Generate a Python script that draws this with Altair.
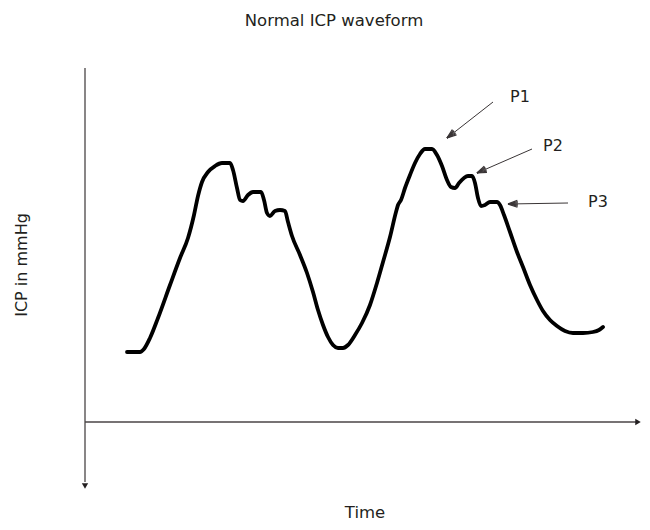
import math
import altair as alt
import pandas as pd

# Waveform trace (time units, ICP units)
time = [42, 55, 59, 65, 73, 85, 95, 103, 109, 113, 117, 123, 130, 137, 145, 148, 152, 155, 158,
        163, 168, 176, 179, 182, 185, 190, 195, 200, 203, 207, 215, 222, 228, 233, 238, 243, 248,
        253, 258, 263, 270, 277, 285, 292, 298, 305, 311, 313, 316, 320, 325, 330, 335, 340, 347,
        352, 357, 362, 366, 370, 374, 379, 383, 387, 390, 393, 396, 400, 405, 412, 415, 419, 425,
        432, 438, 445, 452, 458, 465, 472, 480, 488, 498, 508, 514, 518]
icp = [70, 70, 73, 84, 104, 137, 164, 184, 207, 226, 240, 250, 256, 259, 259, 252, 234, 222, 221,
       227, 230, 230, 222, 209, 206, 211, 212, 211, 200, 186, 167, 149, 130, 112, 97, 85, 77,
       74, 74, 77, 87, 99, 117, 139, 160, 185, 210, 217, 222, 234, 247, 259, 268, 273, 273,
       267, 256, 242, 235, 234, 239, 244, 246, 246, 239, 224, 216, 217, 220, 220, 217, 207, 190,
       170, 155, 137, 122, 111, 102, 96, 91, 89, 89, 90, 92, 95]

# Peak annotations
peak_labels = ["P1", "P2", "P3"]
label_time = [435, 468, 513]
label_icp = [325, 276, 220]
arrow_tail_time = [408, 447, 483]
arrow_tail_icp = [320, 273, 219]
arrow_head_time = [362, 392, 423]
arrow_head_icp = [284, 249, 218]

# Axis lines
axis_start_time = [0, 0]
axis_start_icp = [354, 0]
axis_end_time = [0, 553]
axis_end_icp = [-60, 0]
axis_head_time = [0, 553]
axis_head_icp = [-64, 0]
axis_head_shape = ["triangle-down", "triangle-right"]

title_text = "Normal ICP waveform"
y_label = "ICP in mmHg"
x_label = "Time"

FONT = "DejaVu Sans"
TXT = "#231f20"

xs = alt.Scale(domain=[-77, 557])
ys = alt.Scale(domain=[-100, 414])

wave = pd.DataFrame({"time": time, "icp": icp})

line = alt.Chart(wave).mark_line(
    color="black", strokeWidth=3.8, strokeCap="round", strokeJoin="round", interpolate="monotone"
).encode(
    x=alt.X("time:Q", scale=xs, axis=None),
    y=alt.Y("icp:Q", scale=ys, axis=None),
)

axes_df = pd.DataFrame({"time": axis_start_time, "icp": axis_start_icp,
                        "time2": axis_end_time, "icp2": axis_end_icp})
axes = alt.Chart(axes_df).mark_rule(color="#4a4546", strokeWidth=1.3).encode(
    x=alt.X("time:Q", scale=xs, axis=None), y=alt.Y("icp:Q", scale=ys, axis=None),
    x2="time2:Q", y2="icp2:Q")

heads_df = pd.DataFrame({"time": axis_head_time, "icp": axis_head_icp, "shape": axis_head_shape})
heads = alt.Chart(heads_df).mark_point(filled=True, color="#231f20", size=40, opacity=1).encode(
    x=alt.X("time:Q", scale=xs, axis=None), y=alt.Y("icp:Q", scale=ys, axis=None),
    shape=alt.Shape("shape:N", scale=None))

# annotation arrows: shaft plus barbs derived from the arrow end points
rows = []
barbs = []
for i in range(len(peak_labels)):
    dx = arrow_tail_time[i] - arrow_head_time[i]
    dy = arrow_tail_icp[i] - arrow_head_icp[i]
    ln = math.hypot(dx, dy)
    ux, uy = dx / ln, dy / ln
    rows.append({"label": peak_labels[i],
                 "time": arrow_tail_time[i], "icp": arrow_tail_icp[i],
                 "time2": arrow_head_time[i], "icp2": arrow_head_icp[i],
                 "lt": label_time[i], "lv": label_icp[i]})
    for a in (-20, -13, -6, 6, 13, 20):
        r = math.radians(a)
        bx = ux * math.cos(r) - uy * math.sin(r)
        by = ux * math.sin(r) + uy * math.cos(r)
        barbs.append({"time": arrow_head_time[i], "icp": arrow_head_icp[i],
                      "time2": arrow_head_time[i] + 10 * bx, "icp2": arrow_head_icp[i] + 10 * by})
ann = pd.DataFrame(rows)
barb_df = pd.DataFrame(barbs)

ann_lines = alt.Chart(ann).mark_rule(color="#3a3536", strokeWidth=1).encode(
    x=alt.X("time:Q", scale=xs, axis=None), y=alt.Y("icp:Q", scale=ys, axis=None),
    x2="time2:Q", y2="icp2:Q")
ann_heads = alt.Chart(barb_df).mark_rule(color="#3a3536", strokeWidth=1.2).encode(
    x=alt.X("time:Q", scale=xs, axis=None), y=alt.Y("icp:Q", scale=ys, axis=None),
    x2="time2:Q", y2="icp2:Q")
ann_text = alt.Chart(ann).mark_text(font=FONT, fontSize=16, color=TXT, baseline="middle", align="center").encode(
    x=alt.X("lt:Q", scale=xs, axis=None), y=alt.Y("lv:Q", scale=ys, axis=None), text="label:N")

title_df = pd.DataFrame({"text": [title_text], "time": [249], "icp": [401]})
title = alt.Chart(title_df).mark_text(font=FONT, fontSize=16.5, color=TXT, baseline="middle", align="center").encode(
    x=alt.X("time:Q", scale=xs, axis=None), y=alt.Y("icp:Q", scale=ys, axis=None), text="text:N")

xlab_df = pd.DataFrame({"text": [x_label], "time": [280], "icp": [-91]})
xlab = alt.Chart(xlab_df).mark_text(font=FONT, fontSize=16.5, color=TXT, baseline="middle", align="center").encode(
    x=alt.X("time:Q", scale=xs, axis=None), y=alt.Y("icp:Q", scale=ys, axis=None), text="text:N")

ylab_df = pd.DataFrame({"text": [y_label], "time": [-63], "icp": [157]})
ylab = alt.Chart(ylab_df).mark_text(font=FONT, fontSize=16, color=TXT, baseline="middle", align="center", angle=270).encode(
    x=alt.X("time:Q", scale=xs, axis=None), y=alt.Y("icp:Q", scale=ys, axis=None), text="text:N")

chart = alt.layer(axes, heads, line, ann_lines, ann_heads, ann_text, title, xlab, ylab).properties(
    width=634, height=514, padding=0, autosize="none"
).configure_view(stroke=None)

chart.save("out.html", embed_options={"renderer": "svg", "actions": False})
